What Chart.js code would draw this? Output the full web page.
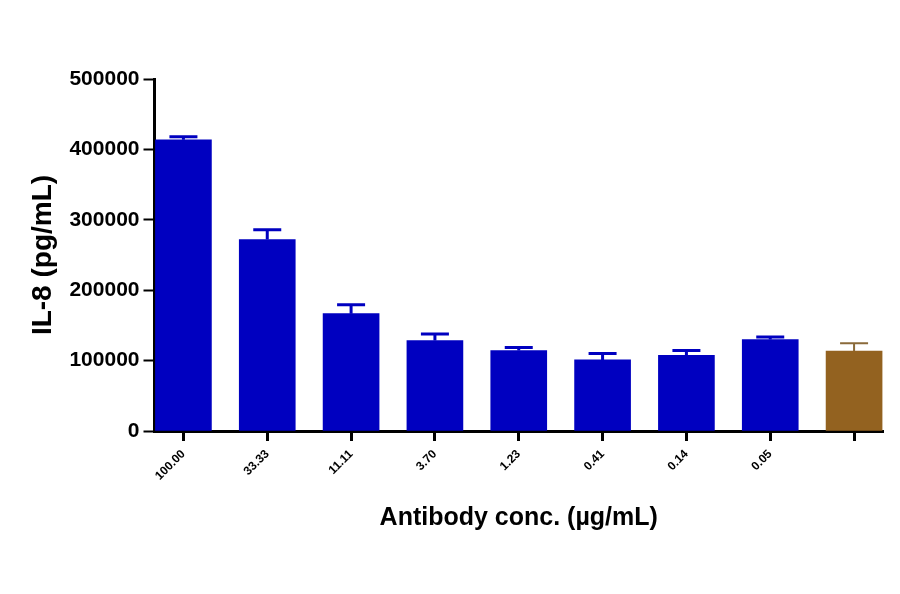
<!DOCTYPE html>
<html>
<head>
<meta charset="utf-8">
<title>IL-8 vs antibody concentration</title>
<script src="https://cdn.jsdelivr.net/npm/chart.js@4.4.0/dist/chart.umd.min.js"></script>
<style>
  html, body { margin: 0; padding: 0; background: #fff; }
  #wrap { width: 900px; height: 594px; }
</style>
</head>
<body>
<div id="wrap"><canvas id="il8Chart" width="900" height="594"></canvas></div>
<script>
// Antibody concentrations (ug/mL); last group is the control (no label)
const doseLabels = ['100.00', '33.33', '11.11', '3.70', '1.23', '0.41', '0.14', '0.05', ''];
// Mean IL-8 (pg/mL) and the upper error (SEM)
const il8Means = [413600, 271900, 166700, 128500, 114300, 101000, 107600, 129900, 113700];
const il8Errors = [4200, 13800, 12700, 9300, 4200, 9000, 6700, 3700, 10900];
const yTicks = [0, 100000, 200000, 300000, 400000, 500000];

const BLUE = '#0000c0';
const BROWN = '#936220';
const barColors = doseLabels.map((d, i) => i === doseLabels.length - 1 ? BROWN : BLUE);

// draws the upward T error bars on top of each bar
const errorBars = {
    id: 'errorBars',
    afterDatasetsDraw(chart) {
        const ctx = chart.ctx;
        const y = chart.scales.y;
        const meta = chart.getDatasetMeta(0);
        meta.data.forEach((bar, i) => {
            const top = y.getPixelForValue(il8Means[i] + il8Errors[i]);
            const base = y.getPixelForValue(il8Means[i]);
            const last = i === doseLabels.length - 1;
            ctx.save();
            ctx.strokeStyle = last ? '#8a6a3a' : BLUE;
            ctx.lineWidth = last ? 2 : 3;
            ctx.beginPath();
            ctx.moveTo(bar.x, base);
            ctx.lineTo(bar.x, top);
            ctx.moveTo(bar.x - 14, top);
            ctx.lineTo(bar.x + 14, top);
            ctx.stroke();
            ctx.restore();
        });
    }
};

const boldFont = (size) => ({ family: '"Liberation Sans", Arial, sans-serif', size: size, weight: 'bold' });

new Chart(document.getElementById('il8Chart').getContext('2d'), {
    type: 'bar',
    data: {
        datasets: [{
            data: il8Means.map((v, i) => ({ x: i, y: v })),
            backgroundColor: barColors,
            borderWidth: 0,
            barThickness: 56
        }]
    },
    options: {
        responsive: false,
        animation: false,
        devicePixelRatio: 1,
        layout: { padding: { left: 0, top: 79, right: 17, bottom: 0 } },
        plugins: {
            legend: { display: false },
            tooltip: { enabled: false }
        },
        scales: {
            x: {
                type: 'linear',
                offset: false,
                min: -0.345,
                max: 8.345,
                afterFit: (scale) => { scale.height = 163; },
                afterBuildTicks: (scale) => { scale.ticks = doseLabels.map((d, i) => ({ value: i })); },
                ticks: {
                    color: '#000',
                    font: boldFont(12),
                    minRotation: 45,
                    maxRotation: 45,
                    autoSkip: false,
                    padding: 6,
                    callback: (v) => doseLabels[v]
                },
                grid: {
                    offset: false,
                    drawOnChartArea: false,
                    drawTicks: true,
                    tickLength: 10,
                    tickWidth: 3,
                    tickColor: '#000'
                },
                border: { color: '#000', width: 3 },
                title: {
                    display: true,
                    text: 'Antibody conc. (µg/mL)',
                    color: '#000',
                    font: boldFont(25),
                    padding: { top: 0, bottom: 61 }
                }
            },
            y: {
                min: 0,
                max: 500000,
                afterFit: (scale) => { scale.width = 154.5; },
                afterBuildTicks: (scale) => { scale.ticks = yTicks.map(v => ({ value: v })); },
                ticks: {
                    color: '#000',
                    font: boldFont(21),
                    padding: 4,
                    callback: (v) => String(v)
                },
                grid: {
                    drawOnChartArea: false,
                    drawTicks: true,
                    tickLength: 11,
                    tickWidth: 2,
                    tickColor: '#000'
                },
                border: { color: '#000', width: 3 },
                title: {
                    display: true,
                    text: 'IL-8 (pg/mL)',
                    color: '#000',
                    font: boldFont(28),
                    padding: { top: 26, bottom: 0 }
                }
            }
        }
    },
    plugins: [errorBars]
});
</script>
</body>
</html>
